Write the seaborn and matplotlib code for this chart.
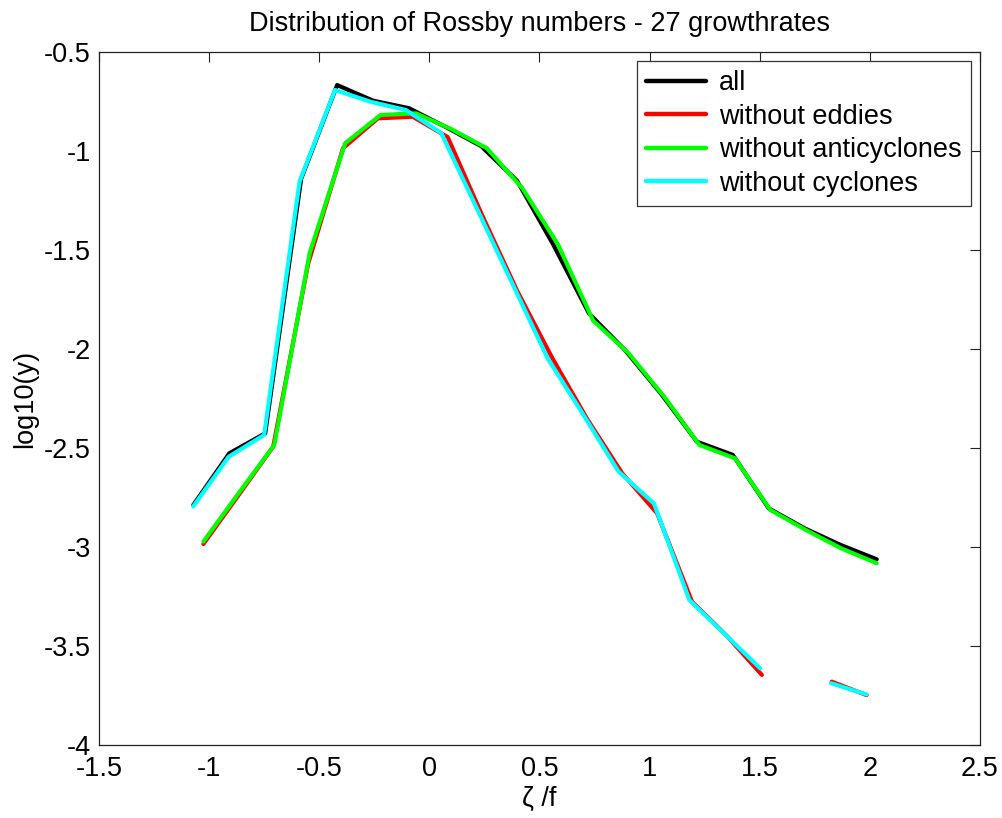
import numpy as np
import pandas as pd
import matplotlib
matplotlib.use("Agg")
import matplotlib.pyplot as plt
import seaborn as sns

# ---- data ----
series_names = ["all", "without eddies", "without anticyclones", "without cyclones"]
series_colors = ["#000000", "#ff0000", "#00ff00", "#00ffff"]

x_all = list(np.linspace(-1.072, 2.031, 20))
y_all = [-2.788, -2.527, -2.426, -1.14, -0.667, -0.746, -0.784, -0.877, -0.975, -1.15,
         -1.47, -1.82, -2.005, -2.225, -2.468, -2.535, -2.805, -2.906, -2.99, -3.062]

x_noeddies = list(np.linspace(-1.026, 1.985, 20))
y_noeddies = [-2.985, -2.74, -2.493, -1.57, -0.986, -0.835, -0.827, -0.93, -1.33, -1.71,
              -2.047, -2.355, -2.628, -2.83, -3.276, -3.45, -3.646, np.nan, -3.68, -3.748]

x_noanti = list(np.linspace(-1.026, 2.031, 20))
y_noanti = [-2.973, -2.727, -2.485, -1.515, -0.961, -0.818, -0.81, -0.89, -0.986, -1.188,
            -1.47, -1.857, -2.022, -2.24, -2.485, -2.552, -2.813, -2.914, -3.007, -3.082]

x_nocyc = list(np.linspace(-1.072, 1.985, 20))
y_nocyc = [-2.795, -2.544, -2.434, -1.155, -0.692, -0.751, -0.793, -0.91, -1.289, -1.668,
           -2.047, -2.33, -2.619, -2.78, -3.268, -3.44, -3.613, np.nan, -3.688, -3.745]

xticks = [-1.5, -1, -0.5, 0, 0.5, 1, 1.5, 2, 2.5]
xticklabels = ["-1.5", "-1", "-0.5", "0", "0.5", "1", "1.5", "2", "2.5"]
yticks = [-4, -3.5, -3, -2.5, -2, -1.5, -1, -0.5]
yticklabels = ["-4", "-3.5", "-3", "-2.5", "-2", "-1.5", "-1", "-0.5"]

title = "Distribution of Rossby numbers - 27 growthrates"
xlabel = "\u03b6 /f"
ylabel = "log10(y)"

# ---- build long-form table ----
frames = []
for name, xs, ys in [(series_names[0], x_all, y_all),
                     (series_names[1], x_noeddies, y_noeddies),
                     (series_names[2], x_noanti, y_noanti),
                     (series_names[3], x_nocyc, y_nocyc)]:
    d = pd.DataFrame({"x": xs, "y": ys})
    d["seg"] = d["y"].isna().cumsum()
    d["series"] = name
    frames.append(d.dropna())
df = pd.concat(frames, ignore_index=True)
df["unit"] = df["series"] + "_" + df["seg"].astype(str)

# ---- style ----
sns.set_theme(style="white")
fs = 19.5
plt.rcParams.update({
    "font.family": ["Liberation Sans", "DejaVu Sans"],
    "axes.unicode_minus": False,
    "text.color": "black",
    "axes.labelcolor": "black",
    "axes.titlecolor": "black",
    "axes.edgecolor": "#222222",
    "axes.linewidth": 0.9,
    "xtick.direction": "in",
    "ytick.direction": "in",
    "xtick.top": True,
    "ytick.right": True,
    "xtick.major.size": 7,
    "ytick.major.size": 7,
    "xtick.major.width": 0.8,
    "ytick.major.width": 0.8,
    "xtick.color": "#222222",
    "ytick.color": "#222222",
    "xtick.labelcolor": "black",
    "ytick.labelcolor": "black",
})

fig = plt.figure(figsize=(10.03, 8.18), dpi=100)
ax = fig.add_axes([99 / 1003, 1 - 745 / 818, (980 - 99) / 1003, (745 - 52) / 818])

sns.lineplot(data=df, x="x", y="y", hue="series", hue_order=series_names,
             palette=dict(zip(series_names, series_colors)), units="unit",
             estimator=None, sort=False, linewidth=3.0, ax=ax)

ax.set_xlim(-1.5, 2.5)
ax.set_ylim(-4, -0.5)
ax.set_xticks(xticks)
ax.set_xticklabels(xticklabels, fontsize=fs)
ax.set_yticks(yticks)
ax.set_yticklabels(yticklabels, fontsize=fs)
ax.tick_params(axis="x", pad=8)
ax.tick_params(axis="y", pad=6)
for s in ax.spines.values():
    s.set_visible(True)

ax.set_title(title, fontsize=fs, pad=15, color="black")
ax.set_xlabel(xlabel, fontsize=fs, labelpad=3)
ax.set_ylabel(ylabel, fontsize=fs, labelpad=4)

leg = ax.legend(loc="upper right", fontsize=fs, frameon=True, fancybox=False,
                edgecolor="#333333", framealpha=1, handlelength=2.2,
                handletextpad=0.5, labelspacing=0.28, borderaxespad=0.35,
                borderpad=0.32)
leg.get_frame().set_linewidth(0.9)
for line in leg.get_lines():
    line.set_linewidth(3.2)
for t in leg.get_texts():
    t.set_color("black")

fig.savefig("out.png", dpi=100)
